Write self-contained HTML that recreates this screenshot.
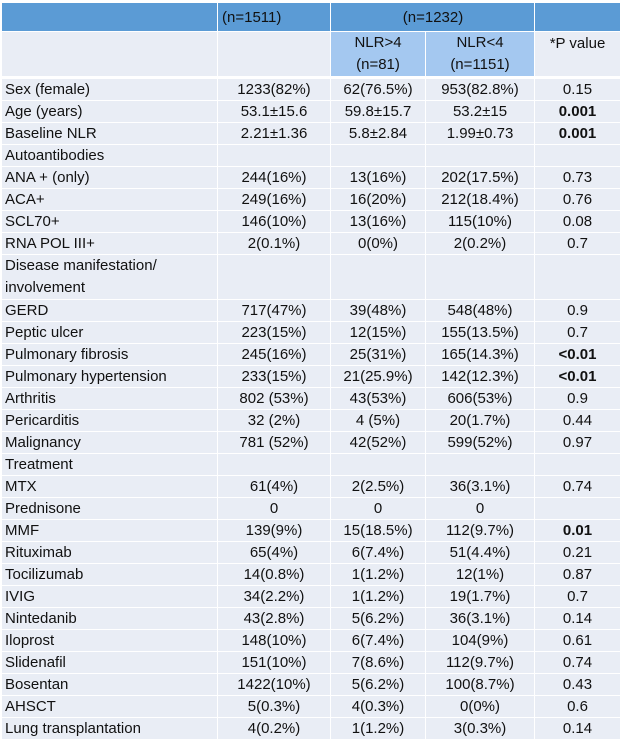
<!DOCTYPE html>
<html><head><meta charset="utf-8">
<style>
body{margin:0;background:#fff;width:622px;height:745px;overflow:hidden;font-family:"Liberation Sans",Arial,sans-serif;font-size:15px;color:#111}
table{position:absolute;left:1px;top:2px;border-collapse:collapse;table-layout:fixed;width:619px}
td{padding:0 3px;height:21px;line-height:19px;border:1px solid #fff;background:#e9edf5;text-align:center;white-space:nowrap;overflow:hidden}
td.l{text-align:left}
tr.h1 td{background:#5b9bd5;height:28px;text-align:left;padding-left:4px}
tr.h1 td.c{text-align:center}
tr.h2 td{height:43px;border-bottom:3px solid #fff;line-height:22px}
tr.h2 td.lb{background:#a4c8f0}
b{font-weight:bold}
</style></head><body>
<table>
<colgroup><col style="width:216px"><col style="width:113px"><col style="width:95px"><col style="width:109px"><col style="width:86px"></colgroup>
<tr class="h1"><td></td><td>(n=1511)</td><td colspan="2" class="c">(n=1232)</td><td></td></tr>
<tr class="h2"><td></td><td></td><td class="lb">NLR&gt;4<br>(n=81)</td><td class="lb">NLR&lt;4<br>(n=1151)</td><td style="vertical-align:top;padding-top:1px">*P value</td></tr>
<tr><td class="l">Sex (female)</td><td>1233(82%)</td><td>62(76.5%)</td><td>953(82.8%)</td><td>0.15</td></tr>
<tr><td class="l">Age (years)</td><td>53.1±15.6</td><td>59.8±15.7</td><td>53.2±15</td><td><b>0.001</b></td></tr>
<tr><td class="l">Baseline NLR</td><td>2.21±1.36</td><td>5.8±2.84</td><td>1.99±0.73</td><td><b>0.001</b></td></tr>
<tr><td class="l">Autoantibodies</td><td></td><td></td><td></td><td></td></tr>
<tr><td class="l">ANA + (only)</td><td>244(16%)</td><td>13(16%)</td><td>202(17.5%)</td><td>0.73</td></tr>
<tr><td class="l">ACA+</td><td>249(16%)</td><td>16(20%)</td><td>212(18.4%)</td><td>0.76</td></tr>
<tr><td class="l">SCL70+</td><td>146(10%)</td><td>13(16%)</td><td>115(10%)</td><td>0.08</td></tr>
<tr><td class="l">RNA POL III+</td><td>2(0.1%)</td><td>0(0%)</td><td>2(0.2%)</td><td>0.7</td></tr>
<tr><td class="l" style="height:43px;line-height:22px">Disease manifestation/<br>involvement</td><td></td><td></td><td></td><td></td></tr>
<tr><td class="l">GERD</td><td>717(47%)</td><td>39(48%)</td><td>548(48%)</td><td>0.9</td></tr>
<tr><td class="l">Peptic ulcer</td><td>223(15%)</td><td>12(15%)</td><td>155(13.5%)</td><td>0.7</td></tr>
<tr><td class="l">Pulmonary fibrosis</td><td>245(16%)</td><td>25(31%)</td><td>165(14.3%)</td><td><b>&lt;0.01</b></td></tr>
<tr><td class="l">Pulmonary hypertension</td><td>233(15%)</td><td>21(25.9%)</td><td>142(12.3%)</td><td><b>&lt;0.01</b></td></tr>
<tr><td class="l">Arthritis</td><td>802 (53%)</td><td>43(53%)</td><td>606(53%)</td><td>0.9</td></tr>
<tr><td class="l">Pericarditis</td><td>32 (2%)</td><td>4 (5%)</td><td>20(1.7%)</td><td>0.44</td></tr>
<tr><td class="l">Malignancy</td><td>781 (52%)</td><td>42(52%)</td><td>599(52%)</td><td>0.97</td></tr>
<tr><td class="l">Treatment</td><td></td><td></td><td></td><td></td></tr>
<tr><td class="l">MTX</td><td>61(4%)</td><td>2(2.5%)</td><td>36(3.1%)</td><td>0.74</td></tr>
<tr><td class="l">Prednisone</td><td>0</td><td>0</td><td>0</td><td></td></tr>
<tr><td class="l">MMF</td><td>139(9%)</td><td>15(18.5%)</td><td>112(9.7%)</td><td><b>0.01</b></td></tr>
<tr><td class="l">Rituximab</td><td>65(4%)</td><td>6(7.4%)</td><td>51(4.4%)</td><td>0.21</td></tr>
<tr><td class="l">Tocilizumab</td><td>14(0.8%)</td><td>1(1.2%)</td><td>12(1%)</td><td>0.87</td></tr>
<tr><td class="l">IVIG</td><td>34(2.2%)</td><td>1(1.2%)</td><td>19(1.7%)</td><td>0.7</td></tr>
<tr><td class="l">Nintedanib</td><td>43(2.8%)</td><td>5(6.2%)</td><td>36(3.1%)</td><td>0.14</td></tr>
<tr><td class="l">Iloprost</td><td>148(10%)</td><td>6(7.4%)</td><td>104(9%)</td><td>0.61</td></tr>
<tr><td class="l">Slidenafil</td><td>151(10%)</td><td>7(8.6%)</td><td>112(9.7%)</td><td>0.74</td></tr>
<tr><td class="l">Bosentan</td><td>1422(10%)</td><td>5(6.2%)</td><td>100(8.7%)</td><td>0.43</td></tr>
<tr><td class="l">AHSCT</td><td>5(0.3%)</td><td>4(0.3%)</td><td>0(0%)</td><td>0.6</td></tr>
<tr><td class="l">Lung transplantation</td><td>4(0.2%)</td><td>1(1.2%)</td><td>3(0.3%)</td><td>0.14</td></tr>
</table>
</body></html>
